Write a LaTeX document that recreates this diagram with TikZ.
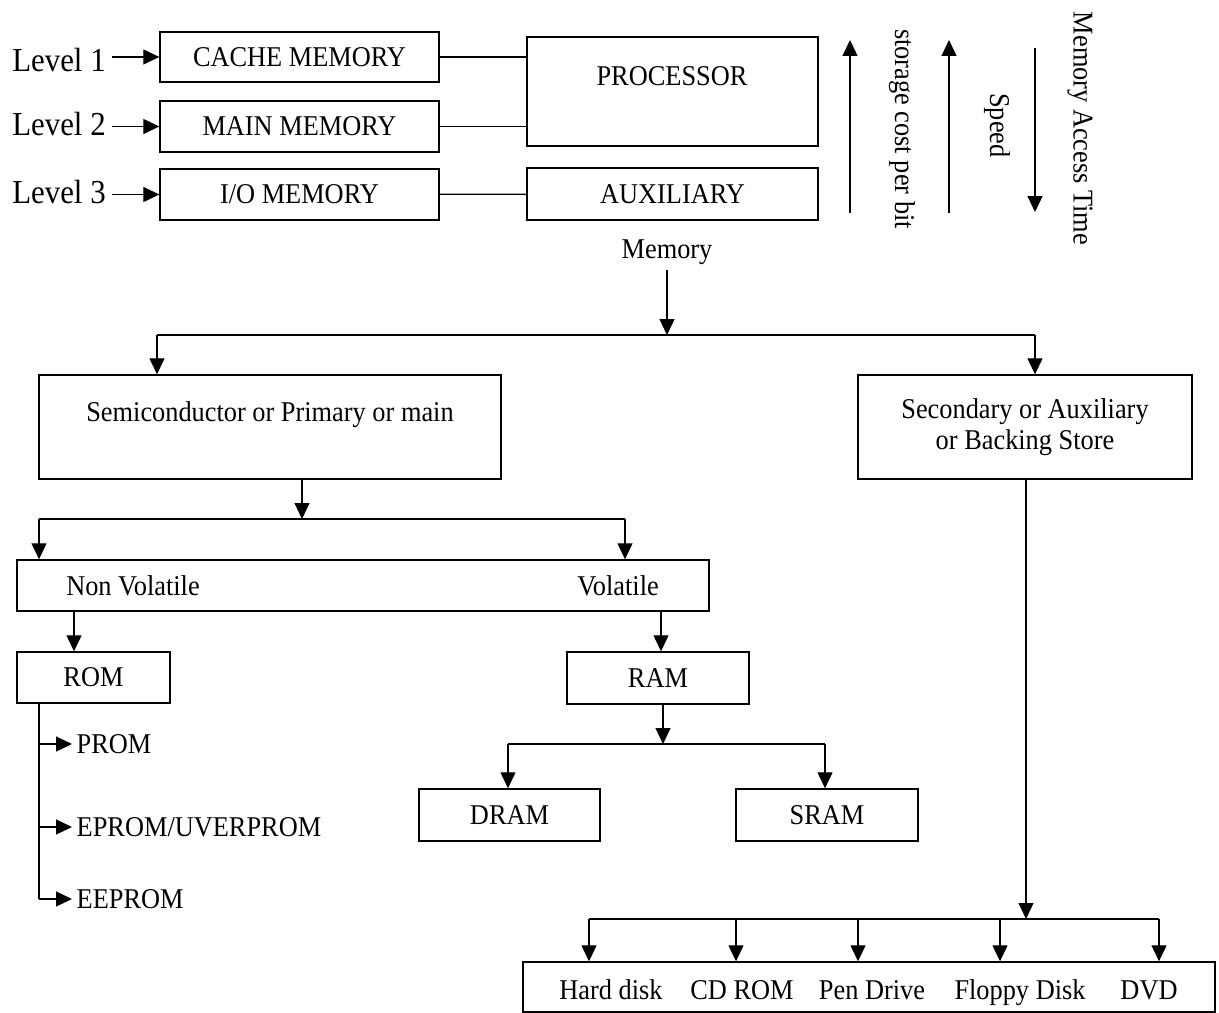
\documentclass[tikz,border=0pt]{standalone}
\usepackage{fontspec}
\setmainfont{Liberation Serif}[FakeStretch=0.92]
\usetikzlibrary{arrows.meta}

\begin{document}
\begin{tikzpicture}[x=0.02cm,y=-0.02cm,
    every node/.style={font=\fontsize{16.3}{18}\selectfont},
    box/.style={draw,line width=0.8pt,inner sep=0pt},
    wire/.style={line width=0.7pt},
    arr/.style={wire,-{Triangle[length=0.32cm,width=0.3cm]}},
    lvl/.style={font=\fontsize{19.1}{21}\selectfont,anchor=base}]

      \useasboundingbox (0,0) rectangle (1219,1013);

      \node[box,minimum width=5.58cm,minimum height=1cm] (cache) at (299.5,57) {CACHE MEMORY};
      \node[box,minimum width=5.58cm,minimum height=1.02cm] (mainm) at (299.5,126.5) {MAIN MEMORY};
      \node[box,minimum width=5.58cm,minimum height=1.02cm] (iomem) at (299.5,194.5) {I/O MEMORY};
      \node[box,minimum width=5.82cm,minimum height=2.18cm] (proc) at (672.5,91.5) {};
      \node[anchor=base] (proctext) at (672,86) {PROCESSOR};
      \node[box,minimum width=5.82cm,minimum height=1.04cm] (aux) at (672.5,194) {AUXILIARY};

      \foreach \n/\y/\b in {1/71.7/cache,2/136/mainm,3/204/iomem}{
        \node[lvl] (lev\n) at (59,\y) {Level \n};
        \draw[arr] (lev\n.east |- \b) -- (\b);
      }

      \draw[wire] (cache) -- (cache -| proc.west);
      \draw[wire] (mainm) -- (mainm -| proc.west);
      \draw[wire] (iomem) -- (aux);

      \foreach \x/\a/\b in {850/213/40,949/213/40,1035/48/212}{
        \coordinate (s\x) at (\x,\a);
        \coordinate (e\x) at (\x,\b);
        \draw[arr] (s\x) -- (e\x);
      }
      \node[rotate=-90] (cost) at (902,129) {storage cost per bit};
      \node[rotate=-90] (speed) at (997,125.5) {Speed};
      \node[rotate=-90] (mat) at (1080,128.5) {Memory Access Time};

      \node[anchor=base] (mem) at (667,258) {Memory};

      \node[box,minimum width=9.24cm,minimum height=2.08cm] (semic) at (270,427) {};
      \node[anchor=base] (semictext) at (270,421.7) {Semiconductor or Primary or main};
      \node[box,minimum width=6.68cm,minimum height=2.08cm,align=center] (sec) at (1025,427) {Secondary or Auxiliary\\or Backing Store};

      \node[box,minimum width=13.84cm,minimum height=1.02cm] (nonvol) at (363,585.5) {};
      \node[anchor=base] (nvtext) at (133,595) {Non Volatile};
      \node[anchor=base] (vtext) at (618,595) {Volatile};

      \node[box,minimum width=3.06cm,minimum height=1.02cm] (rom) at (93.5,677.5) {ROM};
      \node[box,minimum width=3.64cm,minimum height=1.04cm] (ram) at (658,678) {RAM};
      \node[box,minimum width=3.62cm,minimum height=1.04cm] (dram) at (509.5,815) {DRAM};
      \node[box,minimum width=3.64cm,minimum height=1.04cm] (sram) at (827,815) {SRAM};

      \node[anchor=west,inner xsep=2.5pt] (prom) at (72,744) {PROM};
      \node[anchor=west,inner xsep=2.5pt] (eprom) at (72,827) {EPROM/UVERPROM};
      \node[anchor=west,inner xsep=2.5pt] (eeprom) at (72,899) {EEPROM};

      \node[box,minimum width=13.84cm,minimum height=1cm] (store) at (869,987) {};
      \foreach \x/\t in {611/Hard disk,742/CD ROM,872/Pen Drive,1020/Floppy Disk,1149/DVD}
        \node[anchor=base] at (\x,999) {\t};

      \coordinate (j1) at (667,335);
      \coordinate (j1l) at (157,335);
      \coordinate (j1r) at (1035,335);
      \draw[arr] (mem) -- (j1);
      \draw[wire] (j1l) -- (j1r);
      \draw[arr] (j1l) -- (j1l |- semic.north);
      \draw[arr] (j1r) -- (j1r |- sec.north);

      \coordinate (j2) at (302,519);
      \coordinate (j2l) at (39,519);
      \coordinate (j2r) at (625,519);
      \draw[arr] (semic.south -| j2) -- (j2);
      \draw[wire] (j2l) -- (j2r);
      \draw[arr] (j2l) -- (j2l |- nonvol.north);
      \draw[arr] (j2r) -- (j2r |- nonvol.north);

      \draw[arr] (nonvol.south -| 74,0) -- (rom.north -| 74,0);
      \draw[arr] (nonvol.south -| 661,0) -- (ram.north -| 661,0);

      \coordinate (j3) at (663,744);
      \coordinate (j3l) at (508,744);
      \coordinate (j3r) at (825,744);
      \draw[arr] (ram.south -| j3) -- (j3);
      \draw[wire] (j3l) -- (j3r);
      \draw[arr] (j3l) -- (j3l |- dram.north);
      \draw[arr] (j3r) -- (j3r |- sram.north);

      \coordinate (rb) at (39,899);
      \draw[wire] (rom.south -| rb) -- (rb);
      \draw[arr] (rb |- prom) -- (prom);
      \draw[arr] (rb |- eprom) -- (eprom);
      \draw[arr] (rb) -- (eeprom);

      \coordinate (j4) at (1026,919);
      \draw[arr] (sec.south -| j4) -- (j4);
      \draw[wire] (589,919) -- (1159,919);
      \foreach \x in {589,736,858,1000,1159}
        \draw[arr] (\x,919) -- (store.north -| \x,0);

    \end{tikzpicture}
\end{document}
